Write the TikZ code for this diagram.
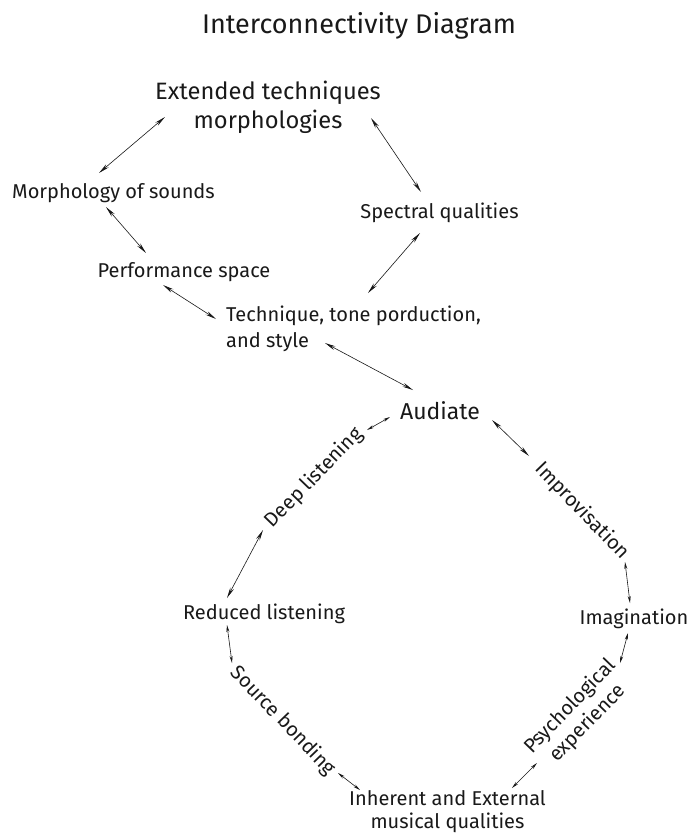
\documentclass[tikz,border=0pt]{standalone}
\usepackage{fontspec}
\setmainfont{Fira Sans}
\usetikzlibrary{arrows.meta}
\begin{document}
\begin{tikzpicture}[x=1pt,y=-1pt,
  lbl/.style={font=\fontsize{20}{26}\selectfont, inner sep=0pt, text=black!90},
  link/.style={line width=0.6pt, draw=black!90,
    {Stealth[length=11pt,width=4pt]}-{Stealth[length=11pt,width=4pt]}},
  shortlink/.style={line width=0.6pt, draw=black!90,
    {Stealth[length=7pt,width=3pt]}-{Stealth[length=7pt,width=3pt]}}]
\useasboundingbox (0,0) rectangle (692,835);
\fill[white] (0,0) rectangle (692,835);

% multi-line nodes: the base anchor is the baseline of the last line
\node[lbl, font=\fontsize{27}{30}\selectfont, anchor=base] (title) at (359,33) {Interconnectivity Diagram};
\node[lbl, font=\fontsize{23.7}{29}\selectfont, align=center, anchor=base] (ext) at (268,128) {Extended techniques\\morphologies};
\node[lbl, anchor=base] (morph) at (113.5,198) {Morphology of sounds};
\node[lbl, anchor=base] (spec) at (439.5,218) {Spectral qualities};
\node[lbl, anchor=base] (perf) at (184,277) {Performance space};
\node[lbl, align=left, anchor=base west] (tech) at (226,347) {Technique, tone porduction,\\and style};
\node[lbl, font=\fontsize{23}{26}\selectfont, anchor=base] (aud) at (440,419) {Audiate};
\node[lbl, rotate=46] (deep) at (314,478) {Deep listening};
\node[lbl, rotate=-46] (impr) at (582,511) {Improvisation};
\node[lbl, anchor=base] (red) at (264,619) {Reduced listening};
\node[lbl, anchor=base] (imag) at (634,624) {Imagination};
\node[lbl, rotate=-46] (src) at (283,721) {Source bonding};
\node[lbl, font=\fontsize{20}{24}\selectfont, rotate=46, align=center] (psy) at (579,715) {Psychological\\experience};
\node[lbl, font=\fontsize{20}{23}\selectfont, align=center, anchor=base] (inh) at (447.5,828) {Inherent and External\\musical qualities};

\draw[link] ([shift={(-103,-11)}]ext.base) -- ([shift={(-14.5,-25)}]morph.base);
\draw[link] ([shift={(103,-10)}]ext.base) -- ([shift={(-18.5,-26)}]spec.base);
\draw[link] ([shift={(-7.5,9)}]morph.base) -- ([shift={(-38,-24)}]perf.base);
\draw[link] ([shift={(-19.5,15)}]spec.base) -- ([shift={(142,-54)}]tech.base west);
\draw[link] ([shift={(-21,8)}]perf.base) -- ([shift={(-10,-28)}]tech.base west);
\draw[link] ([shift={(99,-4)}]tech.base west) -- ([shift={(-27,-29)}]aud.base);
\draw[shortlink] ([shift={(-50,-2)}]aud.base) -- ([shift={(53,-48)}]deep.center);
\draw[link] ([shift={(52,1)}]aud.base) -- ([shift={(-53,-55)}]impr.center);
\draw[link] ([shift={(-51,52)}]deep.center) -- ([shift={(-37,-21)}]red.base);
\draw[shortlink] ([shift={(43,51)}]impr.center) -- ([shift={(-4,-21)}]imag.base);
\draw[shortlink] ([shift={(-37,6)}]red.base) -- ([shift={(-51,-58)}]src.center);
\draw[shortlink] ([shift={(-6,9)}]imag.base) -- ([shift={(41,-52)}]psy.center);
\draw[shortlink] ([shift={(55,52)}]src.center) -- ([shift={(-87.5,-38)}]inh.base);
\draw[shortlink] ([shift={(-42,48)}]psy.center) -- ([shift={(64.5,-40)}]inh.base);
\end{tikzpicture}
\end{document}
